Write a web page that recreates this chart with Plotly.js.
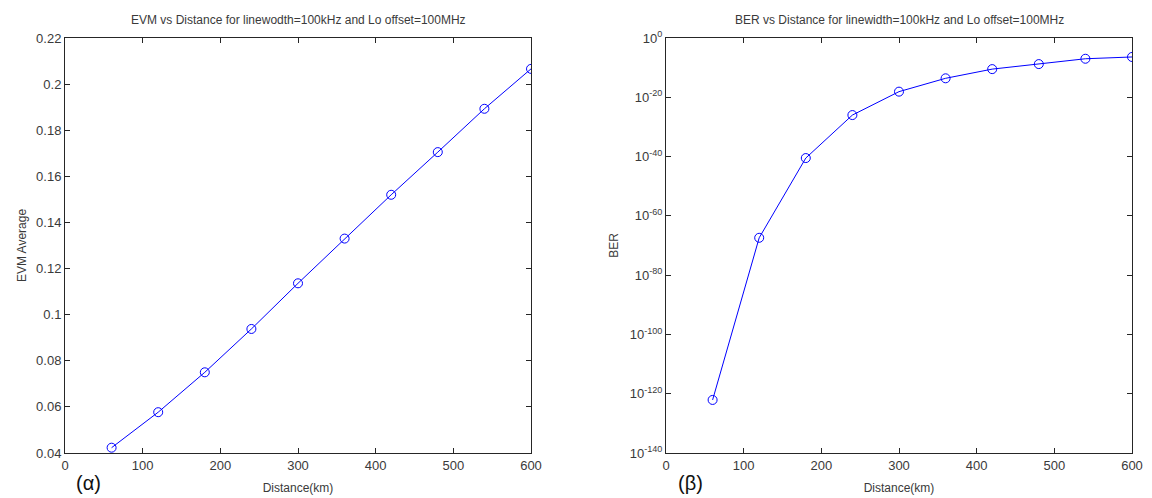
<!DOCTYPE html>
<html>
<head>
<meta charset="utf-8">
<script src="https://cdn.plot.ly/plotly-3.0.1.min.js"></script>
<style>html,body{margin:0;padding:0;background:#fff;}#chart{width:1152px;height:498px;}</style>
</head>
<body>
<div id="chart"></div>
<script>
const distance = [60, 120, 180, 240, 300, 360, 420, 480, 540, 600];
const evmAverage = [0.0423, 0.0577, 0.075, 0.0938, 0.1136, 0.133, 0.152, 0.1705, 0.1893, 0.2066];
const berExponent = [-122.1, -67.4, -40.5, -26, -18.1, -13.6, -10.5, -8.8, -7.0, -6.4];
const ber = berExponent.map(e => Math.pow(10, e));
const evmTicks = [0.04, 0.06, 0.08, 0.1, 0.12, 0.14, 0.16, 0.18, 0.2, 0.22];
const berTickExp = [0, -20, -40, -60, -80, -100, -120, -140];
const berTickVals = berTickExp.map(e => Math.pow(10, e));
const berTickText = berTickExp.map(e => '10<sup>' + e + '</sup>');
const xTicks = [0, 100, 200, 300, 400, 500, 600];

const txt = '#3a3a3a';
const fam = 'Liberation Sans, Arial, sans-serif';
const font = {family: fam, size: 12, color: txt};
const axisCommon = {
  showline: true, linecolor: '#262626', linewidth: 1, mirror: 'allticks',
  ticks: 'inside', ticklen: 5, tickcolor: '#262626', showgrid: false, zeroline: false,
  tickfont: {family: fam, size: 13, color: txt}
};
const traces = [
  {x: distance, y: evmAverage, xaxis: 'x', yaxis: 'y', mode: 'lines+markers', type: 'scatter',
   line: {color: '#0000ff', width: 1}, marker: {symbol: 'circle-open', size: 9, color: '#0000ff', line: {width: 1}}},
  {x: distance, y: ber, xaxis: 'x2', yaxis: 'y2', mode: 'lines+markers', type: 'scatter',
   line: {color: '#0000ff', width: 1}, marker: {symbol: 'circle-open', size: 9, color: '#0000ff', line: {width: 1}}}
];
const layout = {
  width: 1152, height: 498, showlegend: false, font: font,
  paper_bgcolor: '#ffffff', plot_bgcolor: '#ffffff',
  margin: {l: 0, r: 0, t: 38, b: 45},
  xaxis: Object.assign({}, axisCommon, {domain: [65/1152, 531/1152], range: [0, 600], tickvals: xTicks,
    title: {text: 'Distance(km)', font: font, standoff: 12}}),
  yaxis: Object.assign({}, axisCommon, {domain: [0, 1], range: [0.04, 0.22], tickvals: evmTicks,
    title: {text: 'EVM Average', font: font, standoff: 6}}),
  xaxis2: Object.assign({}, axisCommon, {domain: [666/1152, 1132/1152], range: [0, 600], tickvals: xTicks, anchor: 'y2',
    title: {text: 'Distance(km)', font: font, standoff: 12}}),
  yaxis2: Object.assign({}, axisCommon, {domain: [0, 1], type: 'log', range: [-140, 0], anchor: 'x2',
    tickvals: berTickVals, ticktext: berTickText,
    title: {text: 'BER', font: font, standoff: 8}}),
  annotations: [
    {text: 'EVM vs Distance for linewodth=100kHz and Lo offset=100MHz', xref: 'paper', yref: 'paper',
     x: 298/1152, xanchor: 'center', y: 1, yanchor: 'bottom', yshift: 9, showarrow: false, font: font},
    {text: 'BER vs Distance for linewidth=100kHz and Lo offset=100MHz', xref: 'paper', yref: 'paper',
     x: 899/1152, xanchor: 'center', y: 1, yanchor: 'bottom', yshift: 9, showarrow: false, font: font},
    {text: '(α)', xref: 'paper', yref: 'paper', x: 88/1152, xanchor: 'center', y: 0, yanchor: 'middle', yshift: -30, showarrow: false,
     font: {family: fam, size: 20, color: '#111111'}},
    {text: '(β)', xref: 'paper', yref: 'paper', x: 690/1152, xanchor: 'center', y: 0, yanchor: 'middle', yshift: -30, showarrow: false,
     font: {family: fam, size: 20, color: '#111111'}}
  ]
};
Plotly.newPlot('chart', traces, layout, {displayModeBar: false, staticPlot: true});
</script>
</body>
</html>
